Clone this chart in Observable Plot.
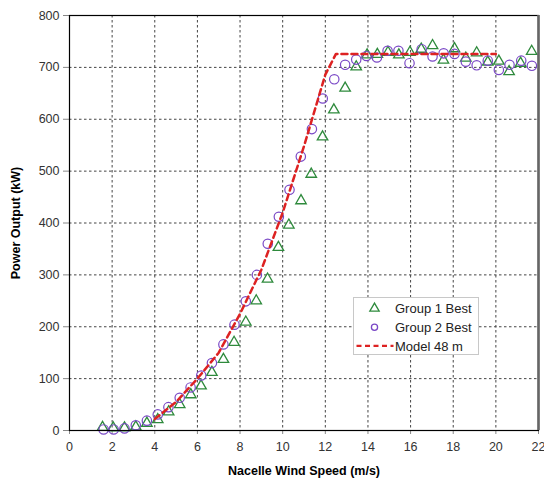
<!DOCTYPE html>
<html>
<head>
<meta charset="utf-8">
<script src="https://cdn.jsdelivr.net/npm/d3@7"></script>
<script src="https://cdn.jsdelivr.net/npm/@observablehq/plot@0.6"></script>
<style>
  body { margin: 0; background: #fff; }
  #chart svg { display: block; }
  #chart [aria-label="x-axis label"] text,
  #chart [aria-label="y-axis label"] text { font-weight: bold; fill: #000; font-size: 12.5px; }
</style>
</head>
<body>
<div id="chart"></div>
<script>
// Binned power curve, Group 1 best (triangles)
const windG1 = [1.55, 2.05, 2.58, 3.11, 3.63, 4.14, 4.65, 5.17, 5.69, 6.17, 6.68, 7.22, 7.72, 8.27, 8.76, 9.29, 9.80, 10.29, 10.86, 11.34, 11.87, 12.40, 12.93, 13.45, 13.96, 14.44, 14.94, 15.45, 15.97, 16.50, 17.03, 17.54, 18.06, 18.59, 19.10, 19.62, 20.14, 20.62, 21.16, 21.68];
const powerG1 = [6, 5, 5, 7, 14, 21, 36, 50, 69, 86, 112, 137, 170, 209, 250, 292, 353, 396, 443, 494, 566, 618, 660, 701, 724, 725, 729, 724, 729, 735, 742, 714, 736, 718, 728, 710, 712, 692, 708, 731];

// Binned power curve, Group 2 best (circles)
const windG2 = [1.60, 2.07, 2.58, 3.11, 3.63, 4.14, 4.64, 5.17, 5.68, 6.18, 6.68, 7.22, 7.74, 8.27, 8.79, 9.30, 9.82, 10.32, 10.85, 11.37, 11.88, 12.42, 12.93, 13.45, 13.93, 14.42, 14.92, 15.43, 15.95, 16.52, 17.03, 17.55, 18.06, 18.59, 19.10, 19.62, 20.14, 20.64, 21.19, 21.69];
const powerG2 = [2, 2, 4, 10, 19, 31, 45, 63, 83, 106, 130, 166, 204, 249, 300, 360, 412, 464, 528, 581, 640, 677, 705, 715, 722, 719, 732, 732, 708, 735, 721, 727, 726, 711, 704, 713, 695, 705, 713, 703];

// Modelled curve at 48 m hub height
const modelWind = [4, 5, 6, 7, 8, 9, 10, 11, 12, 12.5, 20];
const modelPower = [22, 55, 100, 150, 225, 310, 420, 548, 686, 726, 726];

const xTicks = d3.range(0, 23, 2);
const yTicks = d3.range(0, 801, 100);

const g1 = windG1.map((x, i) => ({x, y: powerG1[i]}));
const g2 = windG2.map((x, i) => ({x, y: powerG2[i]}));
const model = modelWind.map((x, i) => ({x, y: modelPower[i]}));

const colors = {g1: "#2e8a3c", g2: "#7a48c6", model: "#dd2222", grid: "#444"};

const chart = Plot.plot({
  width: 544,
  height: 481,
  marginLeft: 69,
  marginRight: 6,
  marginTop: 15,
  marginBottom: 51,
  style: {fontFamily: "'Liberation Sans', Arial, sans-serif", fontSize: "12.5px", color: "#333"},
  x: {domain: [0, 22]},
  y: {domain: [0, 800]},
  marks: [
    Plot.ruleX(xTicks.filter(d => d > 0 && d < 22), {stroke: colors.grid, strokeWidth: 1, strokeDasharray: "2.5,2.5"}),
    Plot.ruleY(yTicks.filter(d => d > 0 && d < 800), {stroke: colors.grid, strokeWidth: 1, strokeDasharray: "2.5,2.5"}),
    Plot.axisX({ticks: xTicks, tickSize: 4, tickPadding: 8, stroke: "#888",
      label: "Nacelle Wind Speed (m/s)", labelAnchor: "center", labelArrow: "none", labelOffset: 44}),
    Plot.axisY({ticks: yTicks, tickSize: 6, tickPadding: 4, stroke: "#888",
      label: "Power Output (kW)", labelAnchor: "center", labelArrow: "none", labelOffset: 58}),
    Plot.dot(g1, {x: "x", y: "y", symbol: "triangle", r: 3.9, stroke: colors.g1, strokeWidth: 1.3, fill: "none"}),
    Plot.dot(g2, {x: "x", y: "y", symbol: "circle", r: 4.7, stroke: colors.g2, strokeWidth: 1.2, fill: "none"}),
    Plot.line(model, {x: "x", y: "y", stroke: colors.model, strokeWidth: 2.5, strokeDasharray: "6,4"}),
    Plot.frame({stroke: "#000", strokeWidth: 1.2}),
    Plot.ruleX([22], {stroke: "#666", strokeWidth: 2.6})
  ]
});

document.getElementById("chart").append(chart);

// Legend box inside the plot area
const svg = d3.select(chart);
const lg = svg.append("g")
  .attr("font-family", "'Liberation Sans', Arial, sans-serif")
  .attr("font-size", "13px")
  .attr("text-anchor", "start");
const bx = 353.5, by = 297.5, bw = 125, bh = 57;
lg.append("rect").attr("x", bx).attr("y", by).attr("width", bw).attr("height", bh)
  .attr("fill", "#fff").attr("stroke", "#c8c8c8").attr("stroke-width", 1);
const entries = [
  {label: "Group 1 Best", kind: "triangle"},
  {label: "Group 2 Best", kind: "circle"},
  {label: "Model 48 m", kind: "line"}
];
entries.forEach((e, i) => {
  const cy = by + 11 + i * 18.7;
  if (e.kind === "line") {
    lg.append("line").attr("x1", bx + 3).attr("x2", bx + 40).attr("y1", cy).attr("y2", cy)
      .attr("stroke", colors.model).attr("stroke-width", 2.2).attr("stroke-dasharray", "5,3.5");
  } else {
    const sym = e.kind === "triangle" ? d3.symbolTriangle : d3.symbolCircle;
    const size = e.kind === "triangle" ? 38 : 30;
    lg.append("path").attr("d", d3.symbol(sym, size)())
      .attr("transform", `translate(${bx + 21},${cy})`)
      .attr("fill", "none").attr("stroke", e.kind === "triangle" ? colors.g1 : colors.g2).attr("stroke-width", 1.3);
  }
  lg.append("text").attr("x", bx + 41.5).attr("y", cy).attr("dy", "0.36em")
    .attr("text-anchor", "start").attr("fill", "#222").text(e.label);
});
</script>
</body>
</html>
